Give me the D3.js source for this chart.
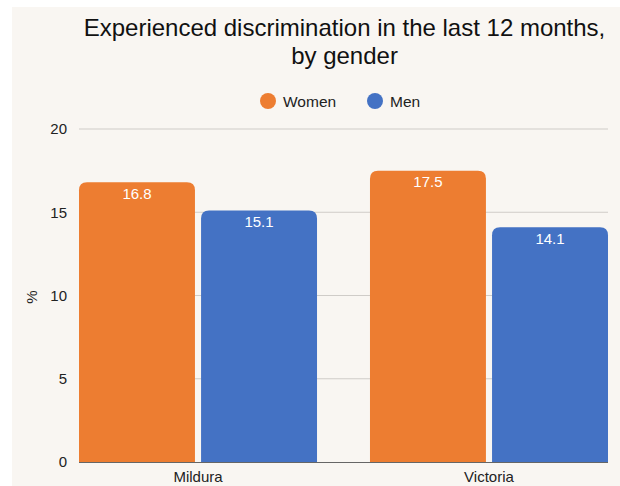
<!DOCTYPE html>
<html>
<head>
<meta charset="utf-8">
<script src="https://cdn.jsdelivr.net/npm/d3@7"></script>
<style>
  html, body { margin: 0; padding: 0; background: #ffffff; }
  svg { display: block; }
  text { font-family: "Liberation Sans", Arial, sans-serif; }
</style>
</head>
<body>
<svg id="chart" width="620" height="486"></svg>
<script>
const categories = ["Mildura", "Victoria"];
const seriesNames = ["Women", "Men"];
const women = [16.8, 17.5];
const men = [15.1, 14.1];
const yTicks = [0, 5, 10, 15, 20];
const titleLines = ["Experienced discrimination in the last 12 months,", "by gender"];
const colors = ["#ED7D31", "#4472C4"];

const svg = d3.select("#chart");
const W = 620, H = 486;

svg.append("rect").attr("x", 12).attr("y", 7).attr("width", W - 12).attr("height", H - 7)
  .attr("fill", "#F9F6F2");

const x0 = d3.scaleBand().domain(categories).range([79, 608]).paddingInner(0.182).paddingOuter(0);
const x1 = d3.scaleBand().domain(seriesNames).range([0, x0.bandwidth()]).paddingInner(0.05);
const y = d3.scaleLinear().domain([0, 20]).range([462, 129]);

// title
svg.append("g").selectAll("text").data(titleLines).join("text")
  .attr("x", 344.5).attr("y", (d, i) => 36 + i * 27.5)
  .attr("text-anchor", "middle").attr("font-size", 24).attr("fill", "#111")
  .text(d => d);

// legend
const legend = svg.append("g");
const legendX = [268, 375];
seriesNames.forEach((s, i) => {
  legend.append("circle").attr("cx", legendX[i]).attr("cy", 101).attr("r", 8).attr("fill", colors[i]);
  legend.append("text").attr("x", legendX[i] + 15).attr("y", 106.5).attr("font-size", 15.5).attr("fill", "#222").text(s);
});

// y axis ticks
const yAxis = d3.axisLeft(y).tickValues(yTicks).tickSize(0).tickPadding(12);
const gy = svg.append("g").attr("transform", "translate(79,0)").call(yAxis);
gy.select(".domain").remove();
gy.selectAll("text").attr("font-size", 15).attr("fill", "#222").attr("font-family", "Liberation Sans, Arial, sans-serif");
// grid
svg.append("g").selectAll("line").data(yTicks.filter(t => t > 0)).join("line")
  .attr("x1", 79).attr("x2", 608).attr("y1", d => y(d)).attr("y2", d => y(d))
  .attr("stroke", "#CFCCC8").attr("stroke-width", 1);

// y title
svg.append("text").attr("transform", "translate(37,297) rotate(-90)")
  .attr("text-anchor", "middle").attr("font-size", 15).attr("fill", "#222").text("%");

// bars
const data = categories.map((c, i) => ({ cat: c, vals: [{ s: "Women", v: women[i], c: colors[0] }, { s: "Men", v: men[i], c: colors[1] }] }));
const r = 8;
function topRounded(xp, yp, w, h, rr) {
  return `M${xp},${yp + h}V${yp + rr}Q${xp},${yp} ${xp + rr},${yp}H${xp + w - rr}Q${xp + w},${yp} ${xp + w},${yp + rr}V${yp + h}Z`;
}
const groups = svg.append("g").selectAll("g").data(data).join("g")
  .attr("transform", d => `translate(${x0(d.cat)},0)`);
groups.selectAll("path").data(d => d.vals).join("path")
  .attr("d", d => topRounded(x1(d.s), y(d.v), x1.bandwidth(), y(0) - y(d.v), r))
  .attr("fill", d => d.c);
groups.selectAll("text").data(d => d.vals).join("text")
  .attr("x", d => x1(d.s) + x1.bandwidth() / 2).attr("y", d => y(d.v) + 16.5)
  .attr("text-anchor", "middle").attr("font-size", 15).attr("fill", "#fff")
  .text(d => d.v.toFixed(1));

// x axis
const xAxis = d3.axisBottom(x0).tickSize(0).tickPadding(9);
const gx = svg.append("g").attr("transform", "translate(0,462)").call(xAxis);
gx.select(".domain").attr("stroke", "#666").attr("d", "M79,0.5H608");
gx.selectAll("text").attr("font-size", 15).attr("fill", "#222").attr("font-family", "Liberation Sans, Arial, sans-serif");
</script>
</body>
</html>
